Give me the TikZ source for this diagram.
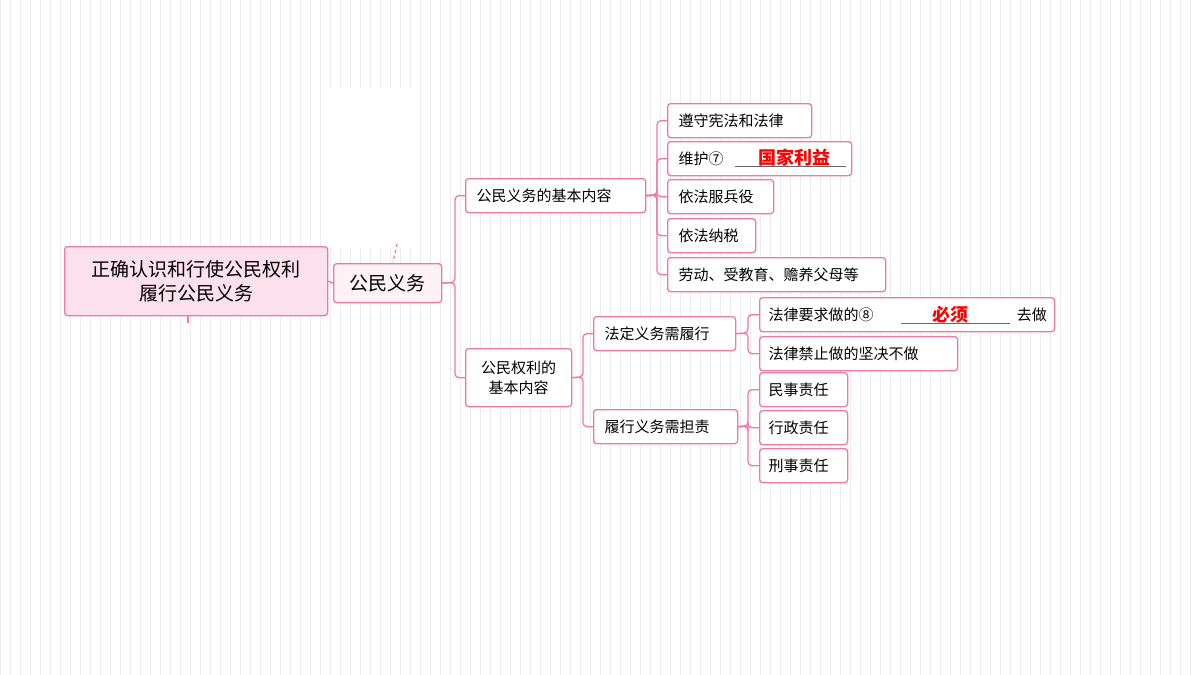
\documentclass[tikz,border=0pt]{standalone}
\usepackage{fontspec}
\setmainfont{Noto Sans CJK SC}
\usetikzlibrary{calc}
\definecolor{pk}{HTML}{EC7AA6}
\definecolor{rootfill}{HTML}{FCE1EC}
\definecolor{l1fill}{HTML}{FFF2F7}
\definecolor{gridc}{HTML}{ECECEC}
\tikzset{
  box/.style={draw=pk,line width=1.3pt,rounded corners=3pt,fill=white,inner sep=0pt,font=\fontsize{15}{18}\selectfont,text=black!80},
  conn/.style={draw=pk,line width=1.3pt,rounded corners=4pt},
  ans/.style={text=red,font=\fontsize{18}{20}\selectfont\bfseries}
}
\newcommand{\bx}[6]{\node[box,#6,minimum width=#3-#1,minimum height=#4-#2,anchor=north west] (#5) at (#1,#2) {};}
\begin{document}
\begin{tikzpicture}[x=1pt,y=-1pt]
\useasboundingbox (0,0) rectangle (1200,675);
\fill[white] (0,0) rectangle (1200,675);
\draw[gridc,line width=0.4pt,step=10] (0,0) grid (1200,675);
\fill[white] (323,88) rectangle (416,248);
\draw[pk,line width=1.3pt,dashed] (397,244) -- (393,262);
\draw[pk,line width=1.3pt] (188,315) -- (188,323);
% nodes
\bx{64}{246}{327}{315}{root}{fill=rootfill}
\node[font=\fontsize{19}{24}\selectfont,align=center] at (root.center) {正确认识和行使公民权利\\履行公民义务};
\bx{333}{263}{441}{302}{a}{fill=l1fill}
\node[font=\fontsize{19}{22}\selectfont] at (a.center) {公民义务};
\bx{465}{178}{645}{212}{b}{}
\node[anchor=west,font=\fontsize{15}{18}\selectfont] at ($(b.west)+(8,0)$) {公民义务的基本内容};
\bx{465}{348}{571}{406}{c}{}
\node[align=center,font=\fontsize{15}{20}\selectfont] at (c.center) {公民权利的\\基本内容};
\bx{667}{103}{811}{137}{b1}{}
\bx{667}{141}{851}{175}{b2}{}
\bx{667}{179}{773}{213}{b3}{}
\bx{667}{218}{755}{252}{b4}{}
\bx{667}{257}{885}{291}{b5}{}
\node[anchor=west,font=\fontsize{15}{18}\selectfont] at ($(b1.west)+(8,0)$) {遵守宪法和法律};
\node[anchor=west,font=\fontsize{15}{18}\selectfont] (t2) at ($(b2.west)+(8,0)$) {维护⑦};
\draw[black!60,line width=0.8pt] (735,166) -- (846,166);
\node[ans] at (794,158) {国家利益};
\node[anchor=west,font=\fontsize{15}{18}\selectfont] at ($(b3.west)+(8,0)$) {依法服兵役};
\node[anchor=west,font=\fontsize{15}{18}\selectfont] at ($(b4.west)+(8,0)$) {依法纳税};
\node[anchor=west,font=\fontsize{15}{18}\selectfont] at ($(b5.west)+(8,0)$) {劳动、受教育、赡养父母等};
\bx{593}{316}{735}{350}{c1}{}
\bx{593}{409}{737}{443}{c2}{}
\node[anchor=west,font=\fontsize{15}{18}\selectfont] at ($(c1.west)+(8,0)$) {法定义务需履行};
\node[anchor=west,font=\fontsize{15}{18}\selectfont] at ($(c2.west)+(8,0)$) {履行义务需担责};
\bx{759}{297}{1054}{331}{d1}{}
\bx{759}{336}{957}{370}{d2}{}
\bx{759}{372}{847}{406}{e1}{}
\bx{759}{410}{847}{444}{e2}{}
\bx{759}{448}{847}{482}{e3}{}
\node[anchor=west,font=\fontsize{15}{18}\selectfont] at ($(d1.west)+(6,0)$) {法律要求做的⑧};
\draw[black!60,line width=0.8pt] (901,323) -- (1010,323);
\node[ans] at (950,315) {必须};
\node[anchor=east,font=\fontsize{15}{18}\selectfont] at ($(d1.east)+(-5,0)$) {去做};
\node[anchor=west,font=\fontsize{15}{18}\selectfont] at ($(d2.west)+(6,0)$) {法律禁止做的坚决不做};
\node[anchor=west,font=\fontsize{15}{18}\selectfont] at ($(e1.west)+(6,0)$) {民事责任};
\node[anchor=west,font=\fontsize{15}{18}\selectfont] at ($(e2.west)+(6,0)$) {行政责任};
\node[anchor=west,font=\fontsize{15}{18}\selectfont] at ($(e3.west)+(6,0)$) {刑事责任};
% connectors
\draw[conn] (root.east) -- (a.west);
\foreach \t in {b,c} \draw[conn] (a.east) -- (455,282.5) |- (\t.west);
\foreach \t in {b1,b2,b3,b4,b5} \draw[conn] (b.east) -- (657,195) |- (\t.west);
\foreach \t in {c1,c2} \draw[conn] (c.east) -- (583,377) |- (\t.west);
\foreach \t in {d1,d2} \draw[conn] (c1.east) -- (748,333) |- (\t.west);
\foreach \t in {e1,e2,e3} \draw[conn] (c2.east) -- (748,426) |- (\t.west);
\end{tikzpicture}
\end{document}
